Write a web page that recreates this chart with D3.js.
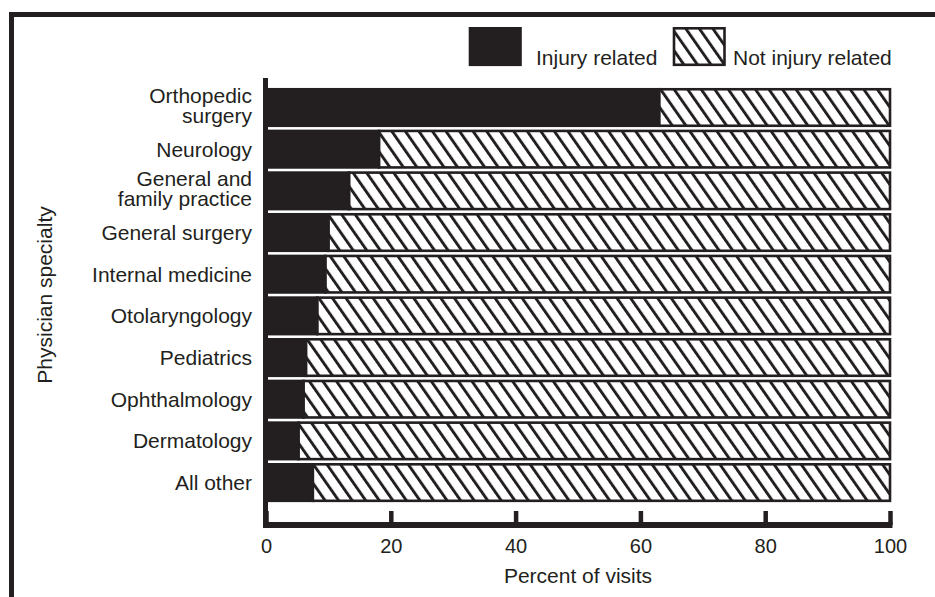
<!DOCTYPE html>
<html>
<head>
<meta charset="utf-8">
<script src="https://cdn.jsdelivr.net/npm/d3@7"></script>
<style>
  html, body { margin: 0; padding: 0; background: #fff; }
  svg { display: block; font-family: "Liberation Sans", Arial, Helvetica, sans-serif; }
</style>
</head>
<body>
<svg id="chart" width="935" height="597"></svg>
<script>
// ---- data ----
const categories = [
  "Orthopedic surgery",
  "Neurology",
  "General and family practice",
  "General surgery",
  "Internal medicine",
  "Otolaryngology",
  "Pediatrics",
  "Ophthalmology",
  "Dermatology",
  "All other"
];
const categoryLines = [
  ["Orthopedic", "surgery"],
  ["Neurology"],
  ["General and", "family practice"],
  ["General surgery"],
  ["Internal medicine"],
  ["Otolaryngology"],
  ["Pediatrics"],
  ["Ophthalmology"],
  ["Dermatology"],
  ["All other"]
];
const injuryRelated = [63, 18.1, 13.3, 10, 9.5, 8.2, 6.4, 6, 5.2, 7.5];
const notInjuryRelated = injuryRelated.map(v => 100 - v);
const seriesNames = ["Injury related", "Not injury related"];
const xTicks = [0, 20, 40, 60, 80, 100];
const xTitle = "Percent of visits";
const yTitle = "Physician specialty";

// ---- drawing ----
const ink = "#231f20";
const svg = d3.select("#chart");

const defs = svg.append("defs");
const pat = defs.append("pattern")
  .attr("id", "hatch")
  .attr("patternUnits", "userSpaceOnUse")
  .attr("width", 11.1)
  .attr("height", 11.1)
  .attr("patternTransform", "rotate(-35)");
pat.append("rect").attr("width", 11.1).attr("height", 11.1).attr("fill", "#fff");
pat.append("rect").attr("x", 0).attr("y", 0).attr("width", 2.9).attr("height", 11.1).attr("fill", ink);

// frame
svg.append("path")
  .attr("d", "M11.5,597 V14.5 H935")
  .attr("fill", "none").attr("stroke", ink).attr("stroke-width", 5);

const x = d3.scaleLinear().domain([0, 100]).range([266, 890]);
const y = d3.scaleBand().domain(categories).range([86.67, 503.4])
  .paddingInner(0.124).paddingOuter(0.062);

// bars
const rows = svg.append("g").selectAll("g").data(categories).join("g");
rows.append("rect")
  .attr("x", (d, i) => x(injuryRelated[i]))
  .attr("y", d => y(d))
  .attr("width", (d, i) => x(100) - x(injuryRelated[i]))
  .attr("height", y.bandwidth())
  .attr("fill", "url(#hatch)")
  .attr("stroke", ink).attr("stroke-width", 2.6);
rows.append("rect")
  .attr("x", x(0))
  .attr("y", d => y(d))
  .attr("width", (d, i) => x(injuryRelated[i]) - x(0))
  .attr("height", y.bandwidth())
  .attr("fill", ink)
  .attr("stroke", ink).attr("stroke-width", 2.6);

// category labels
rows.append("text")
  .attr("text-anchor", "end")
  .attr("fill", ink)
  .attr("font-size", 21)
  .each(function (d, i) {
    const lines = categoryLines[i];
    const cy = y(d) + y.bandwidth() / 2;
    const t = d3.select(this);
    if (lines.length === 1) {
      t.append("tspan").attr("x", 252).attr("y", cy + 7.5).text(lines[0]);
    } else {
      t.append("tspan").attr("x", 252).attr("y", cy - 5).text(lines[0]);
      t.append("tspan").attr("x", 252).attr("y", cy + 15).text(lines[1]);
    }
  });

// x axis
const axisY = 525;
const xAxis = d3.axisBottom(x).tickValues(xTicks).tickSizeInner(-14).tickSizeOuter(0).tickPadding(14)
  .tickFormat(d3.format("d"));
const gx = svg.append("g").attr("transform", `translate(0,${axisY})`).call(xAxis);
gx.select(".domain").remove();
gx.selectAll(".tick line").attr("stroke", ink).attr("stroke-width", 4.5);
gx.selectAll(".tick text").attr("fill", ink).attr("font-size", 20)
  .attr("font-family", "Liberation Sans, Arial, Helvetica, sans-serif");
svg.append("line")
  .attr("x1", 263).attr("x2", 892.5).attr("y1", axisY).attr("y2", axisY)
  .attr("stroke", ink).attr("stroke-width", 6);
// y axis line
svg.append("line")
  .attr("x1", 265.5).attr("x2", 265.5).attr("y1", 78).attr("y2", 528)
  .attr("stroke", ink).attr("stroke-width", 5);

// axis titles
svg.append("text")
  .attr("x", (x(0) + x(100)) / 2).attr("y", 583)
  .attr("text-anchor", "middle").attr("font-size", 21).attr("fill", ink)
  .text(xTitle);
svg.append("text")
  .attr("transform", `translate(52,${295}) rotate(-90)`)
  .attr("text-anchor", "middle").attr("font-size", 21).attr("fill", ink)
  .text(yTitle);

// legend
const legendItems = [
  { name: seriesNames[0], fill: ink, bx: 470, tx: 536 },
  { name: seriesNames[1], fill: "url(#hatch)", bx: 674, tx: 733 }
];
const lg = svg.append("g").selectAll("g").data(legendItems).join("g");
lg.append("rect")
  .attr("x", d => d.bx).attr("y", 28.3).attr("width", 50.5).attr("height", 36.5)
  .attr("fill", d => d.fill).attr("stroke", ink).attr("stroke-width", 2.6);
lg.append("text")
  .attr("x", d => d.tx).attr("y", 65)
  .attr("font-size", 21).attr("fill", ink)
  .text(d => d.name);
</script>
</body>
</html>
